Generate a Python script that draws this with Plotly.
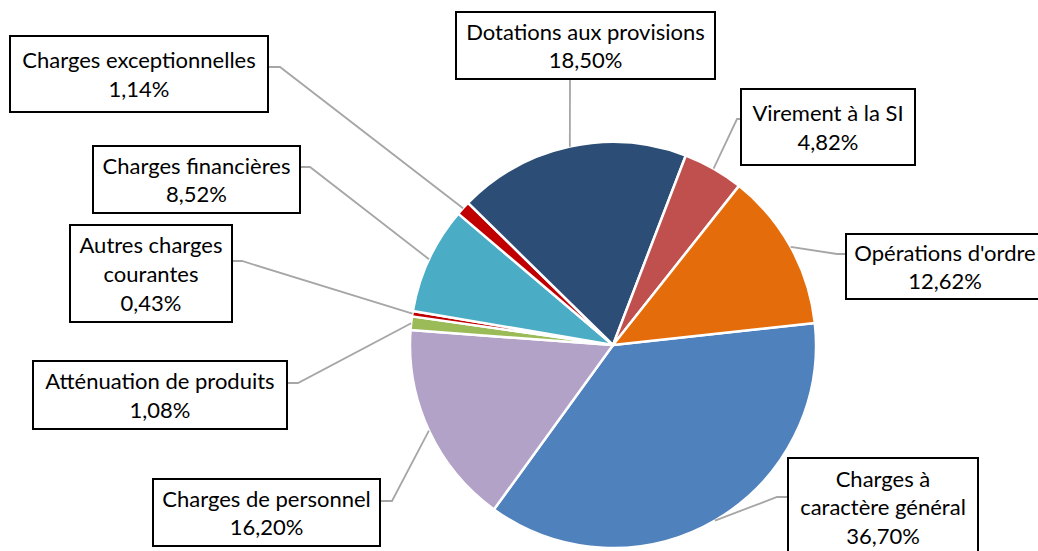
import math
import plotly.graph_objects as go

# ---- data ----
labels = ["Charges à caractère général", "Charges de personnel", "Atténuation de produits",
          "Autres charges courantes", "Charges financières", "Charges exceptionnelles",
          "Dotations aux provisions", "Virement à la SI", "Opérations d'ordre"]
label_text = ["Charges à<br>caractère général", "Charges de personnel", "Atténuation de produits",
              "Autres charges<br>courantes", "Charges financières", "Charges exceptionnelles",
              "Dotations aux provisions", "Virement à la SI", "Opérations d'ordre"]
values = [36.70, 16.20, 1.08, 0.43, 8.52, 1.14, 18.50, 4.82, 12.62]
colors = ["#4F81BD", "#B3A2C7", "#9BBB59", "#C00000", "#4BACC6", "#C00000",
          "#2C4D75", "#C0504D", "#E46C0A"]

# ---- layout constants (pixels) ----
W, H = 1038, 551
CX, CY, R = 613, 345, 203
ROT = 83.8
FONT = dict(family="Lato, 'Open Sans', sans-serif", size=22, color="black")
# box: center x, center y, width, height, attach x, attach y, elbow x, elbow y
boxes = [
    (883, 507, 190, 98, 788, 497, 777, 497),
    (266.5, 512.5, 227, 67, 380, 501, 392, 501),
    (160, 395, 254, 68, 287, 383, 298, 383),
    (151, 273.5, 162, 97, 232, 261, 242, 261),
    (196.5, 179.5, 207, 67, 300, 167, 310, 167),
    (139, 74, 258, 76, 268, 67, 280, 67),
    (585.5, 45.5, 259, 67, 570, 79, 570, 79),
    (828, 127, 174, 76, 741, 119, 737, 119),
    (945, 266.5, 198, 65, 846, 254, 837, 254),
]


def fx(x):
    return x / W


def fy(y):
    return 1 - y / H


fig = go.Figure()
fig.add_trace(go.Pie(
    labels=labels, values=values, sort=False, direction="clockwise", rotation=ROT,
    marker=dict(colors=colors, line=dict(color="white", width=2.5)),
    textinfo="none", hoverinfo="label+percent", showlegend=False,
    domain=dict(x=[fx(CX - R), fx(CX + R)], y=[fy(CY + R), fy(CY - R)]),
))

total = sum(values)
cum = 0.0
shapes = []
annotations = []
for lab, txt, v, b in zip(labels, label_text, values, boxes):
    mid = cum + v / 2
    cum += v
    ang = math.radians(ROT + 360 * mid / total)
    px = CX + R * math.sin(ang)
    py = CY - R * math.cos(ang)
    bx, by, bw, bh, ax, ay, ex, ey = b
    path = f"M {fx(ax)} {fy(ay)} L {fx(ex)} {fy(ey)} L {fx(px)} {fy(py)}"
    shapes.append(dict(type="path", path=path, xref="paper", yref="paper",
                       line=dict(color="#A6A6A6", width=1.8)))
    pct = f"{v:.2f}".replace(".", ",") + "%"
    annotations.append(dict(
        text=f"{txt}<br>{pct}", x=fx(bx), y=fy(by), xref="paper", yref="paper",
        xanchor="center", yanchor="middle", showarrow=False, align="center",
        width=bw - 2, height=bh - 2, borderpad=0, borderwidth=2,
        bordercolor="black", bgcolor="white", font=FONT))

fig.update_layout(
    width=W, height=H, margin=dict(l=0, r=0, t=0, b=0),
    paper_bgcolor="white", plot_bgcolor="white",
    shapes=shapes, annotations=annotations,
)
fig.write_html("out.html", config={"displayModeBar": False},
               post_script="document.body.style.margin='0px';")
